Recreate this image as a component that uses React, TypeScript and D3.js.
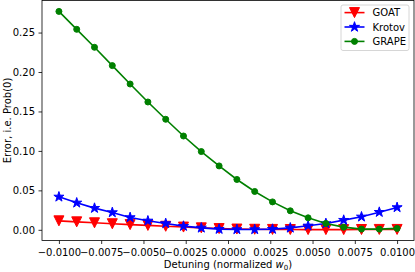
import React, { useEffect, useRef } from 'react'
import * as d3 from 'd3'

// detuning points (linspace -0.01 .. 0.01, 20 points)
const detuning = [
  -0.01, -0.008947, -0.007895, -0.006842, -0.005789, -0.004737, -0.003684, -0.002632, -0.001579, -0.000526,
  0.000526, 0.001579, 0.002632, 0.003684, 0.004737, 0.005789, 0.006842, 0.007895, 0.008947, 0.01,
]

const goat = [
  0.0114, 0.0101, 0.0089, 0.0077, 0.0066, 0.0056, 0.0045, 0.0035, 0.0025, 0.0016,
  0.001, 0.0007, 0.0005, 0.0004, 0.0003, 0.0003, 0.0003, 0.0004, 0.0005, 0.0005,
]

const krotov = [
  0.0418, 0.0342, 0.0275, 0.022, 0.0157, 0.0114, 0.0081, 0.0047, 0.0025, 0.0009,
  0.0005, 0.0005, 0.0009, 0.0025, 0.0051, 0.0081, 0.0123, 0.0165, 0.0224, 0.0284,
]

const grape = [
  0.2768, 0.2541, 0.2313, 0.2081, 0.1848, 0.162, 0.1401, 0.1189, 0.0992, 0.081,
  0.0638, 0.0486, 0.0354, 0.0241, 0.0152, 0.0081, 0.0034, 0.0009, 0.0009, 0.0018,
]

const xTicks = [-0.01, -0.0075, -0.005, -0.0025, 0, 0.0025, 0.005, 0.0075, 0.01]
const yTicks = [0, 0.05, 0.1, 0.15, 0.2, 0.25]

const seriesNames = ['GOAT', 'Krotov', 'GRAPE']
const seriesColors = ['#ff0000', '#0000ff', '#008000']
const seriesMarkers = ['tri', 'star', 'circle']

const FONT = 'DejaVu Sans, sans-serif'

const markerPath = (kind: string) => {
  if (kind === 'tri') {
    // downward triangle, like matplotlib's 'v'
    return 'M0,5L-5,-5L5,-5Z'
  }
  if (kind === 'star') {
    const pts: string[] = []
    for (let i = 0; i < 10; i++) {
      const r = i % 2 === 0 ? 5.3 : 5.3 * 0.381966
      const a = (i * Math.PI) / 5 - Math.PI / 2
      pts.push(`${(r * Math.cos(a)).toFixed(3)},${(r * Math.sin(a)).toFixed(3)}`)
    }
    return 'M' + pts.join('L') + 'Z'
  }
  return d3.symbol(d3.symbolCircle, Math.PI * 3 * 3)()
}

const Chart: React.FC = () => {
  const ref = useRef<SVGSVGElement>(null)

  useEffect(() => {
    const width = 415
    const height = 272
    const margin = { top: 0.5, right: 1, bottom: 31.5, left: 42 }

    const svg = d3.select(ref.current).attr('width', width).attr('height', height)
    svg.selectAll('*').remove()

    const xPad = 0.05 * (d3.max(detuning)! - d3.min(detuning)!)
    const x = d3
      .scaleLinear()
      .domain([d3.min(detuning)! - xPad, d3.max(detuning)! + xPad])
      .range([margin.left, width - margin.right])

    const all = [...goat, ...krotov, ...grape]
    const yMin = d3.min(all)!
    const yMax = d3.max(all)!
    const yPad = 0.05 * (yMax - yMin)
    const y = d3
      .scaleLinear()
      .domain([yMin - yPad, yMax + yPad])
      .range([height - margin.bottom, margin.top])

    const series = [goat, krotov, grape]

    // lines and markers
    series.forEach((vals, si) => {
      const pts = vals.map((v, i) => [detuning[i], v] as [number, number])
      const g = svg.append('g')
      g.append('path')
        .attr('d', d3.line().x((d) => x(d[0])).y((d) => y(d[1]))(pts))
        .attr('fill', 'none')
        .attr('stroke', seriesColors[si])
        .attr('stroke-width', 1.6)
      g.selectAll('path.m')
        .data(pts)
        .enter()
        .append('path')
        .attr('class', 'm')
        .attr('d', markerPath(seriesMarkers[si]))
        .attr('transform', (d) => `translate(${x(d[0])},${y(d[1])})`)
        .attr('fill', seriesColors[si])
        .attr('stroke', seriesColors[si])
        .attr('stroke-width', 1)
    })

    // frame
    svg
      .append('rect')
      .attr('x', margin.left)
      .attr('y', margin.top)
      .attr('width', width - margin.right - margin.left)
      .attr('height', height - margin.bottom - margin.top)
      .attr('fill', 'none')
      .attr('stroke', '#000')
      .attr('stroke-width', 0.8)

    const xAxis = svg
      .append('g')
      .attr('transform', `translate(0,${height - margin.bottom})`)
      .call(
        d3
          .axisBottom(x)
          .tickValues(xTicks)
          .tickSize(3.5)
          .tickPadding(4.5)
          .tickFormat((d) => d3.format('.4f')(d as number).replace('-', '\u2212'))
      )
    const yAxis = svg
      .append('g')
      .attr('transform', `translate(${margin.left},0)`)
      .call(
        d3
          .axisLeft(y)
          .tickValues(yTicks)
          .tickSize(3.5)
          .tickPadding(3.5)
          .tickFormat((d) => d3.format('.2f')(d as number))
      )
    ;[xAxis, yAxis].forEach((a) => {
      a.select('.domain').remove()
      a.selectAll('line').attr('stroke', '#000').attr('stroke-width', 0.8)
      a.selectAll('text').attr('font-family', FONT).attr('font-size', 10).attr('fill', '#000')
    })

    // axis labels
    const xl = svg
      .append('text')
      .attr('x', (margin.left + width - margin.right) / 2)
      .attr('y', 268)
      .attr('text-anchor', 'middle')
      .attr('font-family', FONT)
      .attr('font-size', 10)
    xl.append('tspan').text('Detuning (normalized ')
    xl.append('tspan').attr('font-style', 'italic').text('w')
    xl.append('tspan').attr('font-size', 7).attr('dy', 1.8).text('0')
    xl.append('tspan').attr('dy', -1.8).text(')')

    svg
      .append('text')
      .attr('transform', `translate(10.5,${(margin.top + height - margin.bottom) / 2}) rotate(-90)`)
      .attr('text-anchor', 'middle')
      .attr('font-family', FONT)
      .attr('font-size', 10)
      .text('Error, i.e. Prob(0)')

    // legend
    const lg = svg.append('g')
    lg.append('rect')
      .attr('x', 341)
      .attr('y', 5)
      .attr('width', 68)
      .attr('height', 45.5)
      .attr('rx', 2)
      .attr('fill', 'rgba(255,255,255,0.8)')
      .attr('stroke', '#cccccc')
      .attr('stroke-width', 0.8)
    seriesNames.forEach((name, i) => {
      const cy = 12.6 + i * 14.4
      lg.append('line')
        .attr('x1', 344.5)
        .attr('x2', 364.5)
        .attr('y1', cy)
        .attr('y2', cy)
        .attr('stroke', seriesColors[i])
        .attr('stroke-width', 1.6)
      lg.append('path')
        .attr('d', markerPath(seriesMarkers[i]))
        .attr('transform', `translate(354.5,${cy})`)
        .attr('fill', seriesColors[i])
        .attr('stroke', seriesColors[i])
        .attr('stroke-width', 1)
      lg.append('text')
        .attr('x', 372.5)
        .attr('y', cy + 3.6)
        .attr('font-family', FONT)
        .attr('font-size', 10)
        .text(name)
    })
  }, [])

  return <svg ref={ref} style={{ position: 'absolute', left: 0, top: 0 }} />
}

export default function App() {
  return <Chart />
}
